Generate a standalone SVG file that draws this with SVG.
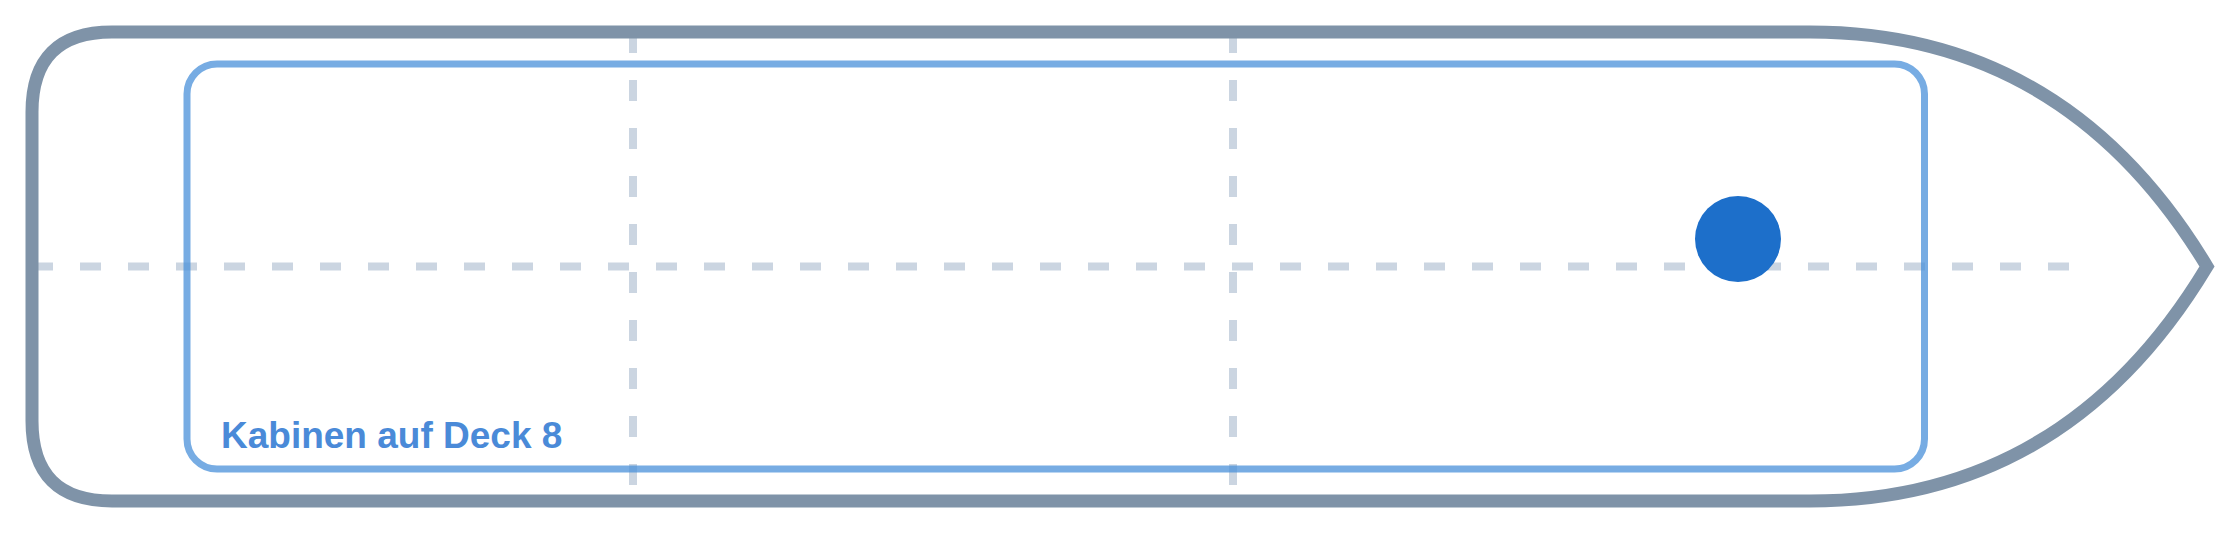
<svg xmlns="http://www.w3.org/2000/svg" width="2240" height="533" viewBox="0 0 2240 533">
  <style>
    .guide { stroke: #cbd5e1; stroke-width: 8; stroke-dasharray: 21 27; fill: none; }
    .hull { fill: none; stroke: #7f93a8; stroke-width: 13; stroke-linejoin: miter; }
    .deck { fill: none; stroke: #4a90d9; stroke-opacity: 0.75; stroke-width: 7; }
    .label { font-family: "Liberation Sans", Arial, sans-serif; font-weight: bold; font-size: 37px; fill: #4a8ad8; }
  </style>
  <rect width="2240" height="533" fill="#ffffff"/>
  <g id="connectors">
    <line class="guide" x1="32" y1="266.5" x2="2072" y2="266.5"/>
    <line class="guide" x1="633" y1="32" x2="633" y2="501"/>
    <line class="guide" x1="1233" y1="32" x2="1233" y2="501"/>
  </g>
  <g id="hull">
    <path class="hull" d="M 112 32 L 1810 32 Q 2066 32 2207 266.5 Q 2066 501 1810 501 L 112 501 Q 32 501 32 421 L 32 112 Q 32 32 112 32 Z"/>
  </g>
  <g id="deck8">
    <rect class="deck" x="187" y="64" width="1737.5" height="405" rx="30" ry="30"/>
    <text class="label" x="221" y="448">Kabinen auf Deck 8</text>
  </g>
  <g id="position">
    <circle cx="1738" cy="239" r="43" fill="#1d6fca"/>
  </g>
</svg>
